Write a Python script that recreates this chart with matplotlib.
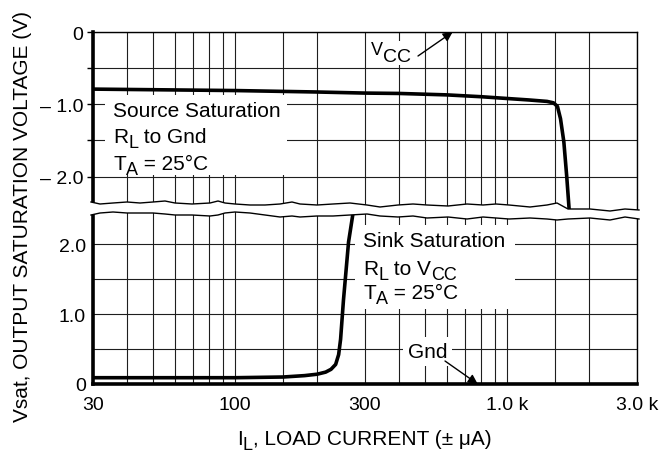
import matplotlib
matplotlib.use('Agg')
import matplotlib.pyplot as plt
from matplotlib.patches import Polygon, Rectangle
from matplotlib.lines import Line2D
from matplotlib.ticker import NullFormatter, FixedLocator

plt.rcParams['font.family'] = ['Liberation Sans', 'DejaVu Sans']

# ---------------- data ----------------
source_current = [30, 100, 200, 300, 400, 600, 800, 1000, 1200, 1400, 1480, 1530, 1570, 1615, 1655, 1700]
source_vsat = [-0.79, -0.81, -0.83, -0.845, -0.85, -0.87, -0.895, -0.92, -0.94, -0.96, -0.98, -1.03, -1.2, -1.52, -2.0, -2.6]

sink_current = [30, 100, 150, 180, 200, 215, 225, 234, 240, 244, 250, 261, 275]
sink_vsat = [0.09, 0.09, 0.10, 0.12, 0.14, 0.17, 0.21, 0.28, 0.42, 0.64, 1.2, 2.03, 2.6]

x_major = [30, 100, 300, 1000, 3000]
x_major_labels = ['30', '100', '300', '1.0 k', '3.0 k']
x_minor = [40, 50, 60, 70, 80, 90, 150, 200, 400, 500, 600, 700, 800, 900, 1500, 2000]

top_yticks = [0, -1, -2]
top_ylabels = ['0', '\u2013 1.0', '\u2013 2.0']
top_yminor = [-0.5, -1.5]
bot_yticks = [0, 1, 2]
bot_ylabels = ['0', '1.0', '2.0']
bot_yminor = [0.5, 1.5]

vcc_point = (630, 0.0)   # where the V_CC arrow points (current, volts)
gnd_point = (779, 0.0)   # where the Gnd arrow points

# ---------------- decoration: axis-break wave (pixels) ----------------
wave_x = [91, 100, 113, 127, 140, 153, 165, 175, 192, 210, 218, 225, 235, 250, 265, 280, 292, 300, 317, 333,
          350, 367, 380, 398, 413, 427, 448, 467, 483, 496, 509, 530, 547, 557, 568, 590, 610, 625, 639]
wave_top = [203, 205, 204, 203, 204, 203, 202, 204, 205, 204, 202, 204, 205, 206, 206, 205, 203, 205, 206, 205,
            204, 206, 208, 206, 205, 206, 207, 205, 206, 205, 206, 208, 206, 204, 210, 210, 212, 210, 211]
wave_bot = [216, 214, 213, 214, 214, 214, 215, 216, 216, 217, 216, 214, 213, 214, 216, 218, 217, 218, 217, 217,
            216, 215, 217, 218, 217, 219, 218, 220, 218, 219, 220, 219, 220, 221, 220, 219, 221, 218, 220]

W, H = 667, 456
L, R = 93, 637
TOP_Y0, TOP_Y1 = 33, 213
BOT_Y0, BOT_Y1 = 213, 385

fig = plt.figure(figsize=(W / 100, H / 100), dpi=100)
ax_top = fig.add_axes([L / W, 1 - TOP_Y1 / H, (R - L) / W, (TOP_Y1 - TOP_Y0) / H])
ax_bot = fig.add_axes([L / W, 1 - BOT_Y1 / H, (R - L) / W, (BOT_Y1 - BOT_Y0) / H])


def top_frac(px, py):
    return ((px - L) / (R - L), (TOP_Y1 - py) / (TOP_Y1 - TOP_Y0))


def bot_frac(px, py):
    return ((px - L) / (R - L), (BOT_Y1 - py) / (BOT_Y1 - BOT_Y0))


def rich(ax, xy, parts, coords, fontsize=15, subsize=13, drop=3.8):
    """Draw text pieces alternating normal / subscript, chained left to right."""
    prev = ax.text(xy[0], xy[1], parts[0], transform=coords, fontsize=fontsize,
                   va='baseline', ha='left', zorder=7)
    for i, s in enumerate(parts[1:], 1):
        sub = (i % 2 == 1)
        prev = ax.annotate(s, xy=(1, xy[1]), xycoords=(prev, coords),
                           xytext=(0, -drop if sub else 0), textcoords='offset points',
                           fontsize=subsize if sub else fontsize,
                           va='baseline', ha='left', zorder=7, annotation_clip=False)
    return prev


grid_kw = dict(color='#1e1e1e', lw=0.8)
for ax in (ax_top, ax_bot):
    ax.set_xscale('log')
    ax.set_xlim(30, 3000)
    ax.xaxis.set_major_locator(FixedLocator(x_major))
    ax.xaxis.set_minor_locator(FixedLocator(x_minor))
    ax.xaxis.set_minor_formatter(NullFormatter())
    ax.grid(True, which='both', axis='both', **grid_kw)
    ax.spines['right'].set_linewidth(1.0)
    ax.spines['left'].set_linewidth(2.6)
    ax.tick_params(axis='x', which='both', length=0, labelsize=14, pad=8.5)
    ax.tick_params(axis='y', labelsize=14)

ax_top.set_ylim(-2.49, 0)
ax_top.set_yticks(top_yticks)
ax_top.set_yticklabels(top_ylabels)
ax_top.set_yticks(top_yminor, minor=True)
ax_top.set_xticklabels([])
ax_top.tick_params(axis='y', which='both', length=4, width=1, pad=3)
ax_top.spines['bottom'].set_visible(False)
ax_top.spines['top'].set_linewidth(1.0)

ax_bot.set_ylim(0, 2.46)
ax_bot.set_yticks(bot_yticks)
ax_bot.set_yticklabels(bot_ylabels)
ax_bot.set_yticks(bot_yminor, minor=True)
ax_bot.set_xticklabels(x_major_labels)
ax_bot.tick_params(axis='y', which='both', length=0, pad=5)
ax_bot.spines['top'].set_visible(False)
ax_bot.spines['bottom'].set_linewidth(2.6)

# curves
ax_top.plot(source_current, source_vsat, color='black', lw=2.6, zorder=6, solid_capstyle='butt')
ax_bot.plot(sink_current, sink_vsat, color='black', lw=2.6, zorder=6, solid_capstyle='butt')


def white_box(ax, frac, px0, py0, px1, py1):
    x0, y0 = frac(px0, py1)
    x1, y1 = frac(px1, py0)
    ax.add_patch(Rectangle((x0, y0), x1 - x0, y1 - y0, transform=ax.transAxes,
                           facecolor='white', edgecolor='none', zorder=3))


white_box(ax_top, top_frac, 105, 96, 287, 176)
white_box(ax_bot, bot_frac, 355, 226, 515, 310)
white_box(ax_top, top_frac, 368, 42, 416, 66)
white_box(ax_bot, bot_frac, 403, 338, 452, 367)

rich(ax_top, top_frac(113, 117), ['Source Saturation'], ax_top.transAxes)
rich(ax_top, top_frac(113, 143), ['R', 'L', ' to Gnd'], ax_top.transAxes)
rich(ax_top, top_frac(113, 170), ['T', 'A', ' = 25°C'], ax_top.transAxes)

rich(ax_bot, bot_frac(363, 247), ['Sink Saturation'], ax_bot.transAxes)
rich(ax_bot, bot_frac(363, 275), ['R', 'L', ' to V', 'CC'], ax_bot.transAxes)
rich(ax_bot, bot_frac(363, 299), ['T', 'A', ' = 25°C'], ax_bot.transAxes)

# V_CC annotation
rich(ax_top, top_frac(371, 55), ['V', 'CC'], ax_top.transAxes, fontsize=13, subsize=14, drop=5)
ax_top.annotate('', xy=vcc_point, xycoords='data',
                xytext=top_frac(418, 57), textcoords='axes fraction',
                arrowprops=dict(arrowstyle='-|>', lw=1, color='black', mutation_scale=14,
                                shrinkA=0, shrinkB=0),
                annotation_clip=False, zorder=7)

# Gnd annotation
ax_bot.text(*bot_frac(427.5, 358), 'Gnd', transform=ax_bot.transAxes, fontsize=15,
            ha='center', va='baseline', zorder=7)
ax_bot.annotate('', xy=gnd_point, xycoords='data',
                xytext=bot_frac(445, 362), textcoords='axes fraction',
                arrowprops=dict(arrowstyle='-|>', lw=1, color='black', mutation_scale=14,
                                shrinkA=0, shrinkB=0),
                annotation_clip=False, zorder=7)

# axis break
def fig_pt(px, py):
    return (px / W, 1 - py / H)

poly = [fig_pt(x, y) for x, y in zip(wave_x, wave_top)] + \
       [fig_pt(x, y) for x, y in zip(wave_x[::-1], wave_bot[::-1])]
fig.add_artist(Polygon(poly, closed=True, transform=fig.transFigure,
                       facecolor='white', edgecolor='none', zorder=10))
fig.add_artist(Line2D([x / W for x in wave_x], [1 - y / H for y in wave_top],
                      transform=fig.transFigure, color='black', lw=1.0, zorder=11))
fig.add_artist(Line2D([x / W for x in wave_x], [1 - y / H for y in wave_bot],
                      transform=fig.transFigure, color='black', lw=1.0, zorder=11))

# axis labels
rich(ax_bot, fig_pt(237, 445), ['I', 'L', ', LOAD CURRENT (± μA)'], fig.transFigure,
     fontsize=15, subsize=13, drop=3.8)
fig.text(28 / W, 1 - 216.5 / H, 'Vsat, OUTPUT SATURATION VOLTAGE (V)', rotation=90,
         rotation_mode='anchor', ha='center', va='baseline', fontsize=15)

fig.savefig('out.png', dpi=100)
